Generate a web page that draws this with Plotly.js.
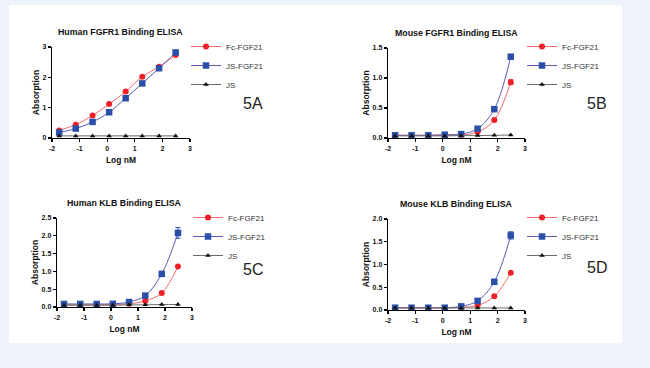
<!DOCTYPE html>
<html><head><meta charset="utf-8">
<script src="https://cdn.plot.ly/plotly-3.0.1.min.js"></script>
<style>html,body{margin:0;padding:0;background:#eef2fa;}#chart{width:650px;height:368px;}</style>
</head><body><div id="chart"></div>
<script>
// log10 concentration (nM)
const logConc = [-1.74, -1.14, -0.53, 0.07, 0.67, 1.27, 1.88, 2.48];

const panelTitles = ["Human FGFR1 Binding ELISA", "Mouse FGFR1 Binding ELISA", "Human KLB Binding ELISA", "Mouse KLB Binding ELISA"];
const panelLabels = ["5A", "5B", "5C", "5D"];
const seriesNames = ["Fc-FGF21", "JS-FGF21", "JS"];

// 5A Human FGFR1
const a_fc = [0.25, 0.44, 0.74, 1.12, 1.53, 2.02, 2.35, 2.74];
const a_js_fgf = [0.18, 0.31, 0.53, 0.85, 1.31, 1.80, 2.30, 2.82];
const a_js = [0.07, 0.07, 0.07, 0.07, 0.07, 0.07, 0.07, 0.07];
// 5B Mouse FGFR1
const b_fc = [0.045, 0.045, 0.045, 0.045, 0.05, 0.10, 0.30, 0.93];
const b_fc_err = [0, 0, 0, 0, 0, 0.01, 0.02, 0.04];
const b_js_fgf = [0.045, 0.045, 0.045, 0.055, 0.065, 0.155, 0.48, 1.355];
const b_js = [0.035, 0.035, 0.035, 0.035, 0.04, 0.04, 0.045, 0.05];
// 5C Human KLB
const c_fc = [0.065, 0.065, 0.065, 0.07, 0.09, 0.17, 0.39, 1.14];
const c_js_fgf = [0.085, 0.085, 0.085, 0.09, 0.14, 0.32, 0.93, 2.08];
const c_js_fgf_err = [0, 0, 0, 0, 0.01, 0.02, 0.04, 0.15];
const c_js = [0.05, 0.05, 0.05, 0.05, 0.06, 0.06, 0.07, 0.07];
// 5D Mouse KLB
const d_fc = [0.045, 0.045, 0.045, 0.045, 0.06, 0.10, 0.30, 0.82];
const d_js_fgf = [0.05, 0.05, 0.05, 0.05, 0.08, 0.20, 0.62, 1.64];
const d_js_fgf_err = [0, 0, 0, 0, 0.01, 0.01, 0.04, 0.08];
const d_js = [0.045, 0.045, 0.045, 0.045, 0.045, 0.045, 0.045, 0.045];

const xTicks = [-2, -1, 0, 1, 2, 3];
const yTickSets = [[0, 1, 2, 3], [0, 0.5, 1.0, 1.5], [0, 0.5, 1.0, 1.5, 2.0, 2.5], [0, 0.5, 1.0, 1.5, 2.0]];
const yTickTextSets = [["0","1","2","3"], ["0.0","0.5","1.0","1.5"], ["0.0","0.5","1.0","1.5","2.0","2.5"], ["0.0","0.5","1.0","1.5","2.0"]];
const yMax = [3, 1.5, 2.5, 2.0];

const panels = [
  {fc: a_fc, fcErr: null, jsf: a_js_fgf, jsfErr: null, js: a_js},
  {fc: b_fc, fcErr: b_fc_err, jsf: b_js_fgf, jsfErr: null, js: b_js},
  {fc: c_fc, fcErr: null, jsf: c_js_fgf, jsfErr: c_js_fgf_err, js: c_js},
  {fc: d_fc, fcErr: null, jsf: d_js_fgf, jsfErr: d_js_fgf_err, js: d_js}
];

const W = 650, H = 368;
// pixel geometry of each plot area [x0, x1, yBottom, yTop]
const geo = [[52, 190, 138, 47], [388, 525, 138, 48], [57, 192, 307, 218], [388, 525, 310, 219]];
const legendPos = [[186, 32], [522, 32], [188, 203], [522, 203]];
const labelPos = [[253, 103], [597, 103], [253, 269], [597, 267]];

const FONT = "Liberation Sans, Arial, sans-serif";
const fcLine = "#f26a6a", fcMark = "#ec2128";
const jsfLine = "#5b5bb8", jsfMark = "#2b4fa9";
const jsLine = "#6b6b6b", jsMark = "#111111";

const traces = [];
const layout = {
  width: W, height: H,
  margin: {l: 0, r: 0, t: 0, b: 0},
  paper_bgcolor: "#eef2fa",
  plot_bgcolor: "rgba(0,0,0,0)",
  font: {family: FONT, color: "#222"},
  showlegend: true,
  shapes: [{type: "rect", xref: "paper", yref: "paper", x0: 9/W, x1: 622/W, y0: 1-343/H, y1: 1-5/H,
            fillcolor: "#ffffff", line: {width: 0}, layer: "below"}],
  annotations: []
};

panels.forEach((p, i) => {
  const n = i + 1;
  const xa = "x" + (n === 1 ? "" : n), ya = "y" + (n === 1 ? "" : n);
  const leg = "legend" + (n === 1 ? "" : n);
  const mk = (name, y, err, lc, mc, sym, size) => ({
    type: "scatter", mode: "lines+markers", name: name, x: logConc, y: y,
    xaxis: xa, yaxis: ya, legend: leg, cliponaxis: false,
    line: {color: lc, width: 1, shape: "spline", smoothing: 1},
    marker: {color: mc, symbol: sym, size: size},
    error_y: err ? {type: "data", array: err, visible: true, color: mc, thickness: 1, width: 2.5} : {visible: false}
  });
  traces.push(mk(seriesNames[0], p.fc, p.fcErr, fcLine, fcMark, "circle", 6));
  traces.push(mk(seriesNames[1], p.jsf, p.jsfErr, jsfLine, jsfMark, "square", 6.5));
  traces.push(mk(seriesNames[2], p.js, null, jsLine, jsMark, "triangle-up", 5));

  const g = geo[i];
  const axBase = {showline: true, linecolor: "#000", linewidth: 1.3, ticks: "outside", ticklen: 3,
                  tickwidth: 1.2, tickcolor: "#000", showgrid: false, zeroline: false, fixedrange: true,
                  tickfont: {family: FONT, size: 7, color: "#111", weight: "bold"}};
  layout["xaxis" + (n === 1 ? "" : n)] = Object.assign({}, axBase, {
    domain: [g[0]/W, g[1]/W], anchor: ya, range: [-2, 3], tickvals: xTicks,
    ticktext: xTicks.map(String),
    title: {text: "Log nM", font: {family: FONT, size: 8.5, color: "#111", weight: "bold"}, standoff: 6}
  });
  layout["yaxis" + (n === 1 ? "" : n)] = Object.assign({}, axBase, {
    domain: [1 - g[2]/H, 1 - g[3]/H], anchor: xa, range: [0, yMax[i]], tickvals: yTickSets[i],
    ticktext: yTickTextSets[i],
    title: {text: "Absorption", font: {family: FONT, size: 8.5, color: "#111", weight: "bold"}, standoff: 1}
  });
  layout[leg] = {x: legendPos[i][0]/W, y: 1 - legendPos[i][1]/H, xanchor: "left", yanchor: "top",
                 bgcolor: "rgba(0,0,0,0)", font: {family: FONT, size: 8, color: "#333"},
                 itemwidth: 30, tracegroupgap: 0};
  layout.annotations.push({xref: "paper", yref: "paper", x: (g[0]+g[1])/2/W, y: 1 - (g[3]-15)/H,
    text: panelTitles[i], showarrow: false, xanchor: "center", yanchor: "middle",
    font: {family: FONT, size: 8.8, color: "#111", weight: "bold"}});
  layout.annotations.push({xref: "paper", yref: "paper", x: labelPos[i][0]/W, y: 1 - labelPos[i][1]/H,
    text: panelLabels[i], showarrow: false, xanchor: "center", yanchor: "middle",
    font: {family: FONT, size: 16, color: "#222"}});
});

Plotly.newPlot("chart", traces, layout, {staticPlot: true, displayModeBar: false});
</script></body></html>
